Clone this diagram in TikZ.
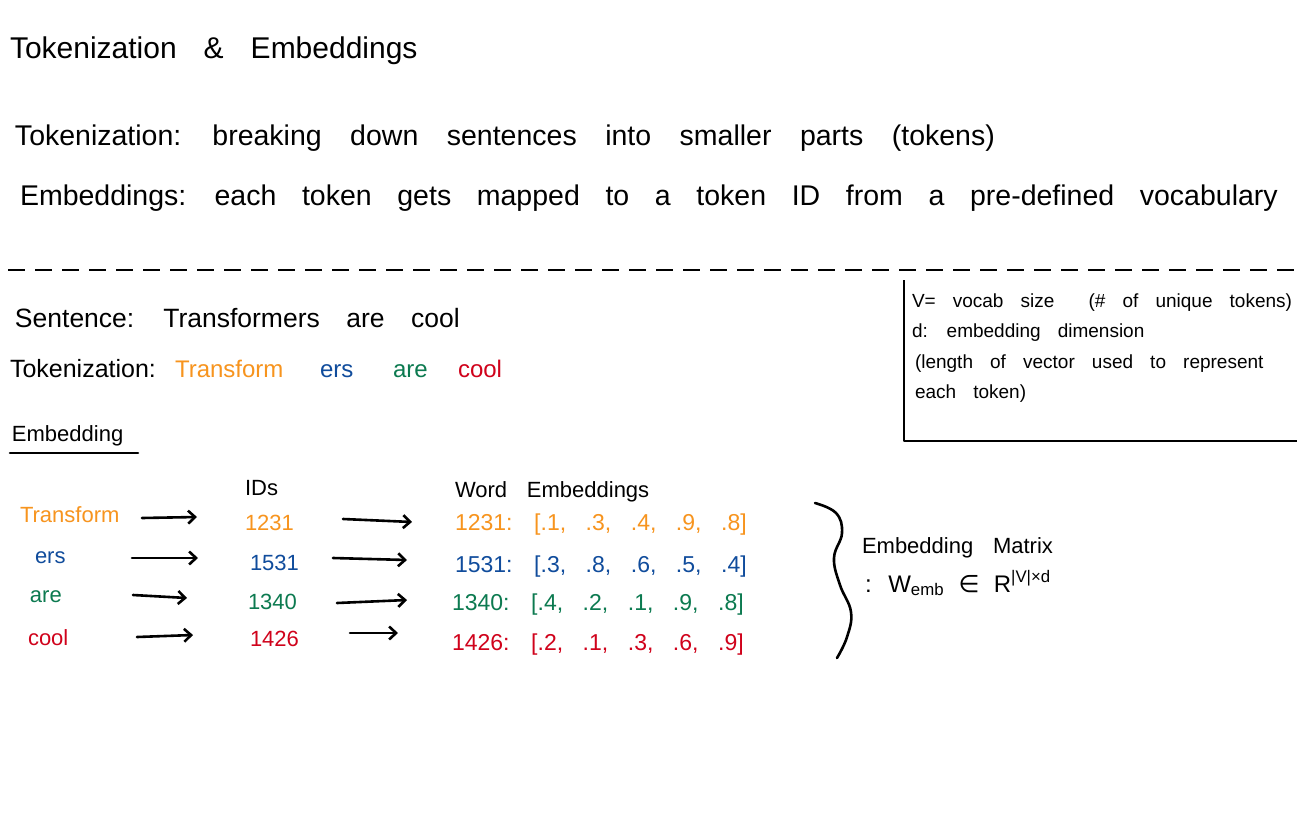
\documentclass[tikz,border=0pt]{standalone}
\usepackage{fontspec}
\setmainfont{Liberation Sans}
\newfontfamily\symfont{DejaVu Sans}
\usetikzlibrary{arrows.meta,calc}
\definecolor{hOrange}{RGB}{247,148,30}
\definecolor{hBlue}{RGB}{16,76,156}
\definecolor{hGreen}{RGB}{12,122,80}
\definecolor{hRed}{RGB}{208,2,27}
\newcommand\hwsize[2]{\fontsize{#2}{#2}\selectfont\spaceskip=#1em\relax}
\begin{document}
\begin{tikzpicture}[x=1pt,y=-1pt,
  txt/.style={anchor=base west, inner sep=0pt, outer sep=0pt},
  mid/.style={txt, font={\hwsize{0.9}{24}}},
  small/.style={txt, font={\hwsize{0.9}{22}}},
  rowtxt/.style={txt, font={\hwsize{0.85}{23}}},
  note/.style={txt, font={\hwsize{0.9}{19}}},
  pen/.style={line width=2.6pt, line cap=round, line join=round},
  arr/.style={pen, -{Straight Barb[length=7pt,width=13pt,line width=2.6pt]}},
]
\useasboundingbox[fill=white] (0,0) rectangle (1302,814);

% header
\node[txt, font={\hwsize{0.9}{30}}] (title) at (10,58) {Tokenization \& Embeddings};
\node[txt, font={\hwsize{1.0}{28.5}}] (def1) at (15,145) {Tokenization: breaking down sentences into smaller parts (tokens)};
\node[txt, font={\hwsize{0.9}{28.5}}] (def2) at (20,205) {Embeddings: each token gets mapped to a token ID from a pre-defined vocabulary};

% dashed separator
\draw[pen, line cap=butt, dash pattern=on 17pt off 10pt] (8,270) -- (1295,270);

% side box
\draw[pen, line cap=butt] (904,280) -- (904,441) -- (1297,441);
\node[note] (v) at (912,307) {V= vocab size \ (\# of unique tokens)};
\node[note] (d) at (912,337) {d: embedding dimension};
\node[note] (len) at (915,368) {(length of vector used to represent};
\node[note] (each) at (915,398) {each token)};

% sentence & tokenization
\node[txt, font={\hwsize{1.0}{26.5}}] (sent) at (15,327) {Sentence: Transformers are cool};
\node[txt, font={\hwsize{0.9}{25}}] (tokl) at (10,377) {Tokenization:};
\node[mid, text=hOrange] (w1) at (175,377) {Transform};
\node[mid, text=hBlue] (w2) at (320,377) {ers};
\node[mid, text=hGreen] (w3) at (393,377) {are};
\node[mid, text=hRed] (w4) at (458,377) {cool};

% embedding heading
\node[small] (emb) at (12,441) {Embedding};
\draw[pen] ($(emb.base west)+(-2,12)$) -- ($(emb.base west)+(126,12)$);

\node[small] (idh) at (245,495) {IDs};
\node[small] (weh) at (455,497) {Word Embeddings};

% rows
\node[small, text=hOrange] (t1) at (20,522) {Transform};
\node[small, text=hBlue]   (t2) at (35,563) {ers};
\node[small, text=hGreen]  (t3) at (30,602) {are};
\node[small, text=hRed]    (t4) at (28,645) {cool};

\node[small, text=hOrange] (i1) at (245,530) {1231};
\node[small, text=hBlue]   (i2) at (250,570) {1531};
\node[small, text=hGreen]  (i3) at (248,609) {1340};
\node[small, text=hRed]    (i4) at (250,646) {1426};

\node[rowtxt, text=hOrange] (e1) at (455,530) {1231: [.1, .3, .4, .9, .8]};
\node[rowtxt, text=hBlue]   (e2) at (455,572) {1531: [.3, .8, .6, .5, .4]};
\node[rowtxt, text=hGreen]  (e3) at (452,610) {1340: [.4, .2, .1, .9, .8]};
\node[rowtxt, text=hRed]    (e4) at (452,650) {1426: [.2, .1, .3, .6, .9]};

% arrows
\draw[arr] ($(t1.base west)+(122,-4)$) -- ($(i1.base west)+(-48,-13)$);
\draw[arr] ($(i1.base west)+(98,-11)$) -- ($(e1.base west)+(-43,-8)$);
\draw[arr] ($(t2.base west)+(97,-5)$) -- ($(i2.base west)+(-52,-12)$);
\draw[arr] ($(i2.base west)+(83,-12)$) -- ($(e2.base west)+(-48,-12)$);
\draw[arr] ($(t3.base west)+(103,-7)$) -- ($(i3.base west)+(-61,-11)$);
\draw[arr] ($(i3.base west)+(89,-6)$) -- ($(e3.base west)+(-45,-10)$);
\draw[arr] ($(t4.base west)+(109,-8)$) -- ($(i4.base west)+(-57,-11)$);
\draw[arr] ($(i4.base west)+(100,-13)$) -- ($(e4.base west)+(-54,-17)$);

% brace
\draw[pen] plot[smooth, tension=0.7] coordinates {(815,503) (836,513) (842,533) (834,558) (840,585) (851,612) (847,637) (837,658)};

% embedding matrix label
\node[txt, font={\hwsize{0.9}{22}}] (m1) at (862,553) {Embedding Matrix};
\node[txt, font={\hwsize{0.6}{24}}] (m2) at (865,592) {: W\textsubscript{emb} {\symfont ∈} R\textsuperscript{|V|×d}};
\end{tikzpicture}
\end{document}
